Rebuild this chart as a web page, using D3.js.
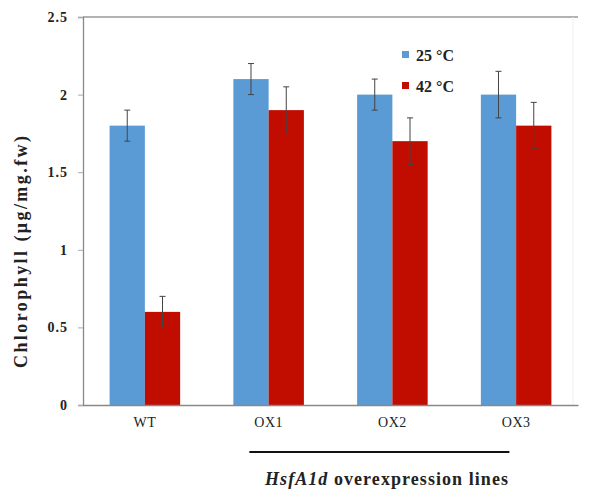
<!DOCTYPE html>
<html>
<head>
<meta charset="utf-8">
<script src="https://cdn.jsdelivr.net/npm/d3@7"></script>
<style>
  body { margin: 0; background: #fff; }
  svg { display: block; font-family: "Liberation Serif", "DejaVu Serif", serif; }
</style>
</head>
<body>
<div id="chart"></div>
<script>
const categories = ['WT', 'OX1', 'OX2', 'OX3'];
const seriesNames = ['25 °C', '42 °C'];
const values25 = [1.8, 2.1, 2.0, 2.0];
const values42 = [0.6, 1.9, 1.7, 1.8];
const errors25 = [0.1, 0.1, 0.1, 0.15];
const errors42 = [0.1, 0.15, 0.15, 0.15];
const yTicks = [0, 0.5, 1, 1.5, 2, 2.5];

const width = 589;
const height = 490;
const colors = ['#5b9bd5', '#c00d00'];

const rows = [];
categories.forEach((c, i) => {
  rows.push({ cat: c, series: seriesNames[0], value: values25[i], err: errors25[i] });
  rows.push({ cat: c, series: seriesNames[1], value: values42[i], err: errors42[i] });
});

const svg = d3.select('#chart')
  .append('svg')
  .attr('width', width)
  .attr('height', height);

const x0 = d3.scaleBand()
  .domain(categories)
  .range([83, 578])
  .paddingInner(0.43)
  .paddingOuter(0.215);

const x1 = d3.scaleBand()
  .domain(seriesNames)
  .range([0, x0.bandwidth()]);

const y = d3.scaleLinear()
  .domain([0, 2.5])
  .range([405, 17]);

const color = d3.scaleOrdinal().domain(seriesNames).range(colors);

// frame: top and right border lines
svg.append('line')
  .attr('x1', 83).attr('x2', 578)
  .attr('y1', y(2.5)).attr('y2', y(2.5))
  .attr('stroke', '#999').attr('stroke-width', 1.5);
svg.append('line')
  .attr('x1', 573).attr('x2', 573)
  .attr('y1', y(2.5)).attr('y2', y(0))
  .attr('stroke', '#eee').attr('stroke-width', 1);

// y axis
const yAxis = svg.append('g')
  .attr('transform', 'translate(83,0)')
  .call(d3.axisLeft(y).tickValues(yTicks).tickSize(5).tickFormat(d3.format('')));
yAxis.select('.domain').attr('stroke', '#888').attr('stroke-width', 1.3);
yAxis.selectAll('.tick line').attr('stroke', '#aaa');
yAxis.selectAll('.tick text')
  .attr('x', -15)
  .attr('font-family', '"Liberation Serif", serif')
  .attr('font-weight', 'bold')
  .attr('font-size', 14)
  .attr('letter-spacing', 1)
  .attr('fill', '#222');

// bars
const groups = svg.selectAll('.grp')
  .data(rows)
  .enter()
  .append('g')
  .attr('transform', d => `translate(${x0(d.cat) + x1(d.series)},0)`);

groups.append('rect')
  .attr('x', 0)
  .attr('y', d => y(d.value))
  .attr('width', x1.bandwidth())
  .attr('height', d => y(0) - y(d.value))
  .attr('fill', d => color(d.series));

// error bars
const cx = x1.bandwidth() / 2;
groups.append('line')
  .attr('x1', cx).attr('x2', cx)
  .attr('y1', d => y(d.value + d.err))
  .attr('y2', d => y(d.value - d.err))
  .attr('stroke', '#444').attr('stroke-width', 1);
groups.append('line')
  .attr('x1', cx - 3).attr('x2', cx + 3)
  .attr('y1', d => y(d.value + d.err))
  .attr('y2', d => y(d.value + d.err))
  .attr('stroke', '#444').attr('stroke-width', 1);
groups.append('line')
  .attr('x1', cx - 3).attr('x2', cx + 3)
  .attr('y1', d => y(d.value - d.err))
  .attr('y2', d => y(d.value - d.err))
  .attr('stroke', '#444').attr('stroke-width', 1);

// x axis
const xAxis = svg.append('g')
  .attr('transform', `translate(0,${y(0)})`)
  .call(d3.axisBottom(x0).tickSize(0).tickPadding(12));
xAxis.select('.domain').attr('stroke', '#888').attr('stroke-width', 1.3);
xAxis.selectAll('.tick text')
  .attr('font-family', '"Liberation Serif", serif')
  .attr('font-size', 14)
  .attr('letter-spacing', 0.5)
  .attr('fill', '#222');

// bracket under the overexpression lines
svg.append('line')
  .attr('x1', x0('OX1') + 16).attr('x2', x0('OX3') + x0.bandwidth() - 42)
  .attr('y1', 452).attr('y2', 452)
  .attr('stroke', '#111').attr('stroke-width', 2);

const note = svg.append('text')
  .attr('x', 265)
  .attr('y', 485)
  .attr('textLength', 243)
  .attr('lengthAdjust', 'spacing')
  .attr('font-size', 18)
  .attr('font-weight', 'bold')
  .attr('fill', '#222');
note.append('tspan').attr('font-style', 'italic').text('HsfA1d');
note.append('tspan').text(' overexpression lines');

// y label
svg.append('text')
  .attr('transform', 'translate(27,252) rotate(-90)')
  .attr('text-anchor', 'middle')
  .attr('textLength', 232)
  .attr('lengthAdjust', 'spacing')
  .attr('font-size', 18)
  .attr('font-weight', 'bold')
  .attr('fill', '#222')
  .text('Chlorophyll (μg/mg.fw)');

// legend
const legend = svg.append('g').attr('transform', 'translate(402,51)');
seriesNames.forEach((s, i) => {
  legend.append('rect')
    .attr('x', 0).attr('y', i * 31)
    .attr('width', 7).attr('height', 7)
    .attr('fill', color(s));
  legend.append('text')
    .attr('x', 14).attr('y', i * 31 + 10)
    .attr('font-size', 16)
    .attr('font-weight', 'bold')
    .attr('fill', '#222')
    .text(s);
});
</script>
</body>
</html>
